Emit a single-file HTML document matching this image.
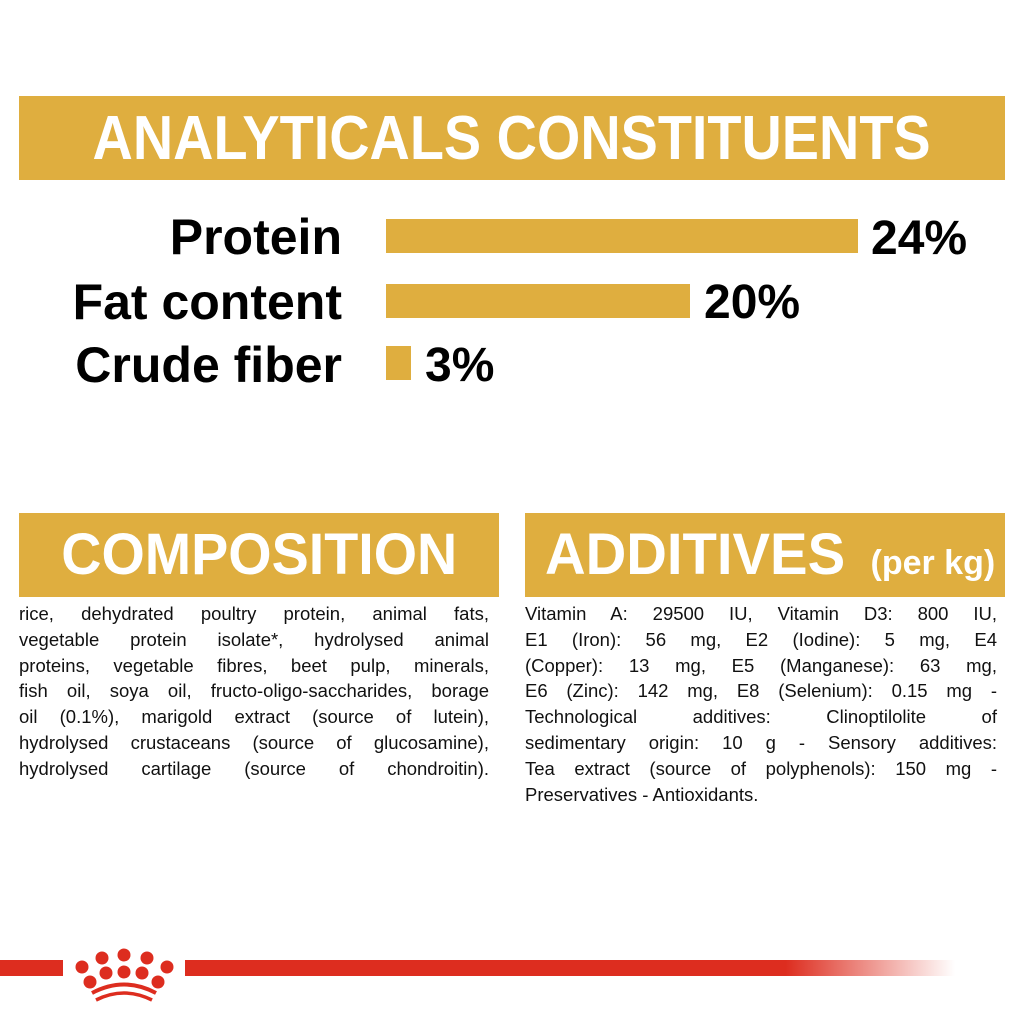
<!DOCTYPE html>
<html><head><meta charset="utf-8"><style>
body{margin:0;width:1024px;height:1024px;background:#fff;position:relative;overflow:hidden;font-family:"Liberation Sans",sans-serif}
.box{position:absolute;background:#dfae3f;color:#fff;font-weight:bold;white-space:nowrap}
.lbl{position:absolute;right:682px;font-weight:bold;font-size:50px;color:#000;line-height:1}
.bar{position:absolute;background:#dfae3f;left:386px;height:34px}
.pct{position:absolute;font-weight:bold;font-size:48px;line-height:1}
.txt{position:absolute;font-size:18.5px;line-height:25.8px;color:#111}
.txt div{text-align:justify;text-align-last:justify;white-space:nowrap;height:25.8px}
.txt div.l{text-align-last:left}
</style></head><body>
<div class="box" style="left:19px;top:96px;width:986px;height:84px;font-size:62px;line-height:86px;text-align:center"><span style="display:inline-block;transform:scaleX(0.9)">ANALYTICALS CONSTITUENTS</span></div>
<div class="lbl" style="top:212px">Protein</div>
<div class="lbl" style="top:277px">Fat content</div>
<div class="lbl" style="top:340px">Crude fiber</div>
<div class="bar" style="top:219px;width:472px"></div>
<div class="bar" style="top:284px;width:304px"></div>
<div class="bar" style="top:346px;width:25px"></div>
<div class="pct" style="left:871px;top:215px">24%</div>
<div class="pct" style="left:704px;top:279px">20%</div>
<div class="pct" style="left:425px;top:342px">3%</div>
<div class="box" style="left:19px;top:513px;width:480px;height:84px;font-size:58px;line-height:84px;text-align:center"><span style="display:inline-block;transform:scaleX(0.96)">COMPOSITION</span></div>
<div class="box" style="left:525px;top:513px;width:480px;height:84px;font-size:58px;line-height:84px;padding-left:20px;box-sizing:border-box"><span style="display:inline-block;transform:scaleX(0.97);transform-origin:left">ADDITIVES</span> <span style="font-size:34px">(per kg)</span></div>
<div class="txt" style="left:19px;top:601px;width:470px">
<div>rice, dehydrated poultry protein, animal fats,</div>
<div>vegetable protein isolate*, hydrolysed animal</div>
<div>proteins, vegetable fibres, beet pulp, minerals,</div>
<div>fish oil, soya oil, fructo-oligo-saccharides, borage</div>
<div>oil (0.1%), marigold extract (source of lutein),</div>
<div>hydrolysed crustaceans (source of glucosamine),</div>
<div>hydrolysed cartilage (source of chondroitin).</div>
</div>
<div class="txt" style="left:525px;top:601px;width:472px">
<div>Vitamin A: 29500 IU, Vitamin D3: 800 IU,</div>
<div>E1 (Iron): 56 mg, E2 (Iodine): 5 mg, E4</div>
<div>(Copper): 13 mg, E5 (Manganese): 63 mg,</div>
<div>E6 (Zinc): 142 mg, E8 (Selenium): 0.15 mg -</div>
<div>Technological additives: Clinoptilolite of</div>
<div>sedimentary origin: 10 g - Sensory additives:</div>
<div>Tea extract (source of polyphenols): 150 mg -</div>
<div class="l">Preservatives - Antioxidants.</div>
</div>
<div style="position:absolute;left:0;top:960px;width:63px;height:16px;background:#dd2d1f"></div>
<div style="position:absolute;left:185px;top:960px;width:770px;height:16px;background:linear-gradient(to right,#dd2d1f 0%,#dd2d1f 78%,#fff 100%)"></div>
<svg style="position:absolute;left:64px;top:930px" width="122" height="72" viewBox="64 930 122 72">
<g fill="#dd2d1f">
<circle cx="82" cy="967" r="6.5"/><circle cx="102" cy="958" r="6.5"/><circle cx="124" cy="955" r="6.5"/><circle cx="147" cy="958" r="6.5"/><circle cx="167" cy="967" r="6.5"/>
<circle cx="90" cy="982" r="6.5"/><circle cx="106" cy="973" r="6.5"/><circle cx="124" cy="972" r="6.5"/><circle cx="142" cy="973" r="6.5"/><circle cx="158" cy="982" r="6.5"/>
</g>
<path d="M92 993 Q124 976 156 993" stroke="#dd2d1f" stroke-width="4" fill="none"/>
<path d="M96 1000 Q124 986 152 1000" stroke="#dd2d1f" stroke-width="3.5" fill="none"/>
</svg>
</body></html>
